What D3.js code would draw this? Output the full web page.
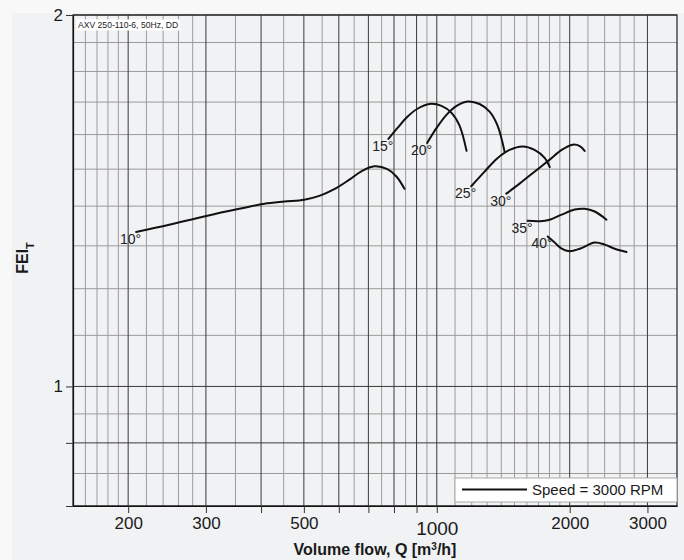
<!DOCTYPE html>
<html>
<head>
<meta charset="utf-8">
<script src="https://cdn.jsdelivr.net/npm/d3@7"></script>
<style>
  html, body { margin: 0; padding: 0; background: #f8f8f9; }
  svg { display: block; font-family: "Liberation Sans", Arial, Helvetica, sans-serif; }
</style>
</head>
<body>
<svg id="chart" width="684" height="560"></svg>
<script>
// Blade-angle curves: volume flow Q [m³/h] against FEI_T
const angleLabels = ["10°", "15°", "20°", "25°", "30°", "35°", "40°"];

const flow10 = [208.5, 247.7, 299, 357, 406.7, 451.6, 501, 542, 586, 634, 675, 722, 773, 811, 845];
const fei10  = [1.334, 1.352, 1.374, 1.393, 1.406, 1.412, 1.417, 1.427, 1.445, 1.471, 1.494, 1.508, 1.500, 1.479, 1.446];

const flow15 = [777, 815, 858, 904, 963, 1025, 1080, 1126, 1168];
const fei15  = [1.587, 1.620, 1.654, 1.679, 1.694, 1.688, 1.666, 1.627, 1.552];

const flow20 = [951, 999, 1052, 1109, 1174, 1250, 1317, 1373, 1424];
const fei20  = [1.575, 1.620, 1.660, 1.688, 1.702, 1.694, 1.670, 1.627, 1.550];

const flow25 = [1197, 1283, 1366, 1462, 1565, 1665, 1755, 1802];
const fei25  = [1.453, 1.493, 1.529, 1.555, 1.565, 1.555, 1.532, 1.506];

const flow30 = [1437, 1540, 1665, 1802, 1918, 2031, 2108, 2162];
const fei30  = [1.433, 1.460, 1.493, 1.527, 1.555, 1.570, 1.566, 1.552];

const flow35 = [1606, 1710, 1802, 1918, 2053, 2162, 2279, 2423];
const fei35  = [1.362, 1.361, 1.365, 1.378, 1.391, 1.393, 1.386, 1.365];

const flow40 = [1783, 1849, 1918, 2000, 2108, 2279, 2401, 2530, 2690];
const fei40  = [1.323, 1.308, 1.293, 1.287, 1.293, 1.308, 1.303, 1.293, 1.285];

const flowSeries = [flow10, flow15, flow20, flow25, flow30, flow35, flow40];
const feiSeries  = [fei10, fei15, fei20, fei25, fei30, fei35, fei40];

// Axis ticks and grid
const xLabelTicks = [200, 300, 500, 1000, 2000, 3000];
const xMajorTicks = [200, 300, 400, 500, 600, 700, 800, 900, 1000, 2000, 3000];
const xGridValues = [160, 170, 180, 190, 220, 240, 260, 280, 350, 450, 550, 650, 750, 850, 950,
                     1100, 1200, 1300, 1400, 1500, 1600, 1700, 1800, 1900, 2200, 2400, 2600, 2800];
const yLabelTicks = [2, 1];
const yMajorTicks = [2, 1, 0.9, 0.8];
const yGridValues = [0.85, 0.95, 1.1, 1.2, 1.3, 1.4, 1.5, 1.6, 1.7, 1.8, 1.9];

const titleText = "AXV 250-110-6, 50Hz, DD";
const legendText = "Speed = 3000 RPM";

const svg = d3.select("#chart");
const W = 684, H = 560;
const plot = { left: 73, right: 677, top: 15, bottom: 506 };

svg.append("rect").attr("x", 12).attr("y", 13).attr("width", W - 12).attr("height", H - 13)
  .attr("fill", "#f1f2f4");

const x = d3.scaleLog().domain([150, 3500]).range([plot.left, plot.right]);
const y = d3.scaleLog().domain([0.8, 2]).range([plot.bottom, plot.top]);

const g = svg.append("g");

// minor grid
g.append("g").selectAll("line").data(xGridValues).join("line")
  .attr("x1", d => x(d)).attr("x2", d => x(d))
  .attr("y1", plot.top).attr("y2", plot.bottom)
  .attr("stroke", "#9c9c9c").attr("stroke-width", 1);
g.append("g").selectAll("line").data(yGridValues).join("line")
  .attr("x1", plot.left).attr("x2", plot.right)
  .attr("y1", d => y(d)).attr("y2", d => y(d))
  .attr("stroke", "#9a9a9a").attr("stroke-width", 1);

// major grid
g.append("g").selectAll("line").data(xMajorTicks).join("line")
  .attr("x1", d => x(d)).attr("x2", d => x(d))
  .attr("y1", plot.top).attr("y2", plot.bottom)
  .attr("stroke", "#3a3a3a").attr("stroke-width", 1);
g.append("g").selectAll("line").data(yMajorTicks).join("line")
  .attr("x1", plot.left).attr("x2", plot.right)
  .attr("y1", d => y(d)).attr("y2", d => y(d))
  .attr("stroke", "#3a3a3a").attr("stroke-width", 1);

// plot frame
g.append("rect")
  .attr("x", plot.left).attr("y", plot.top)
  .attr("width", plot.right - plot.left).attr("height", plot.bottom - plot.top)
  .attr("fill", "none").attr("stroke", "#222").attr("stroke-width", 1.2);

// x axis
const xAxis = d3.axisBottom(x).tickValues(xMajorTicks).tickSize(7).tickSizeOuter(0)
  .tickFormat(d => xLabelTicks.includes(d) ? String(d) : "");
const xAxisG = svg.append("g").attr("transform", `translate(0,${plot.bottom})`).call(xAxis);
xAxisG.select(".domain").attr("stroke", "#111").attr("stroke-width", 1.2);
xAxisG.selectAll(".tick line").attr("stroke", "#333");
xAxisG.selectAll(".tick text")
  .attr("font-size", d => d === 1000 ? 19 : 17)
  .attr("fill", "#1a1a1a")
  .attr("dy", d => d === 1000 ? "1.18em" : "0.95em")
  .attr("y", 7)
  .attr("font-family", "'Liberation Sans', Arial, sans-serif");

// y axis
const yAxis = d3.axisLeft(y).tickValues(yMajorTicks).tickSize(7).tickSizeOuter(0)
  .tickFormat(d => yLabelTicks.includes(d) ? String(d) : "");
const yAxisG = svg.append("g").attr("transform", `translate(${plot.left},0)`).call(yAxis);
yAxisG.select(".domain").attr("stroke", "#111").attr("stroke-width", 1.2);
yAxisG.selectAll(".tick line").attr("stroke", "#333");
yAxisG.selectAll(".tick text")
  .attr("font-size", 17).attr("fill", "#1a1a1a")
  .attr("x", -10)
  .attr("font-family", "'Liberation Sans', Arial, sans-serif");

// curves
const line = d3.line()
  .x(d => x(d[0])).y(d => y(d[1]))
  .curve(d3.curveCatmullRom.alpha(0.5));

flowSeries.forEach((flows, i) => {
  const pts = flows.map((q, k) => [q, feiSeries[i][k]]);
  g.append("path").datum(pts)
    .attr("d", line)
    .attr("fill", "none").attr("stroke", "#111").attr("stroke-width", 2)
    .attr("stroke-linecap", "round");
  g.append("text")
    .attr("x", x(pts[0][0]) + 5).attr("y", y(pts[0][1]) + 12)
    .attr("text-anchor", "end")
    .attr("font-size", 14).attr("fill", "#222")
    .text(angleLabels[i]);
});

// model annotation, top-left inside the plot
const title = svg.append("g");
const tt = title.append("text")
  .attr("x", plot.left + 5).attr("y", plot.top + 13)
  .attr("font-size", 8.6).attr("fill", "#222")
  .text(titleText);
const tb = tt.node().getBBox();
title.insert("rect", "text")
  .attr("x", tb.x - 1.5).attr("y", tb.y - 0.5)
  .attr("width", tb.width + 3).attr("height", tb.height + 1)
  .attr("fill", "#fff");

// legend
const legend = svg.append("g");
legend.append("rect")
  .attr("x", 455).attr("y", 478).attr("width", plot.right - 455).attr("height", 24)
  .attr("fill", "#fff").attr("stroke", "#aaa").attr("stroke-width", 1);
legend.append("line")
  .attr("x1", 462).attr("x2", 527).attr("y1", 489.5).attr("y2", 489.5)
  .attr("stroke", "#111").attr("stroke-width", 2);
legend.append("text")
  .attr("x", 532).attr("y", 495)
  .attr("font-size", 15).attr("fill", "#1a1a1a")
  .text(legendText);

// axis titles
const xTitle = svg.append("text")
  .attr("x", (plot.left + plot.right) / 2).attr("y", 555)
  .attr("text-anchor", "middle")
  .attr("font-size", 16).attr("font-weight", "bold").attr("fill", "#1a1a1a");
xTitle.append("tspan").text("Volume flow, Q [m");
xTitle.append("tspan").attr("baseline-shift", "super").attr("font-size", 10).text("3");
xTitle.append("tspan").text("/h]");

const yTitle = svg.append("text")
  .attr("transform", "translate(28,258) rotate(-90)")
  .attr("text-anchor", "middle")
  .attr("font-size", 16).attr("font-weight", "bold").attr("fill", "#1a1a1a");
yTitle.append("tspan").text("FEI");
yTitle.append("tspan").attr("baseline-shift", "sub").attr("font-size", 11).text("T");
</script>
</body>
</html>
